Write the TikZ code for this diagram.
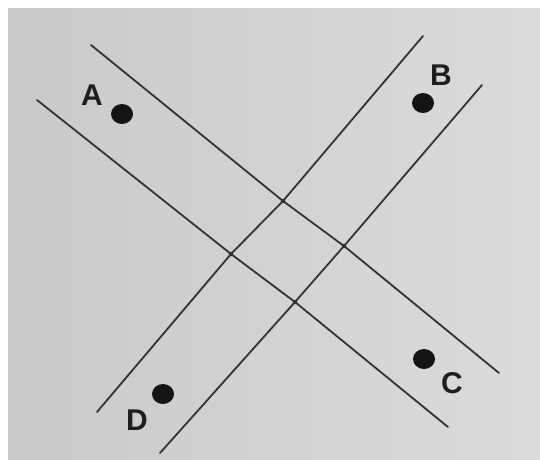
\documentclass[tikz,border=0pt]{standalone}
\usepackage{fontspec}
\setmainfont{Liberation Sans}
\usetikzlibrary{shapes.geometric}
\begin{document}
\begin{tikzpicture}[x=1pt,y=-1pt,
  road/.style={draw=black!80,line width=1.8pt,line cap=round,line join=round},
  spot/.style={ellipse,fill=black!92,inner sep=0pt,minimum width=22pt,minimum height=20pt},
  knot/.style={circle,fill=black!90,inner sep=0pt,minimum size=4.5pt},
  lbl/.style={font=\bfseries\fontsize{30}{30}\selectfont,text=black!88,inner sep=0pt}]
\useasboundingbox (0,0) rectangle (540,459);
\fill[white] (0,0) rectangle (540,459);
\shade[left color=black!21,right color=black!14] (8,8) rectangle (540,459);
% crossing points
\node[knot] (n) at (283,201) {};
\node[knot] (w) at (231,254) {};
\node[knot] (e) at (344,246) {};
\node[knot] (s) at (295,302) {};
% free ends
\coordinate (a1) at (91,45);
\coordinate (a2) at (499,373);
\coordinate (b1) at (37,100);
\coordinate (b2) at (448,427);
\coordinate (c1) at (423,36);
\coordinate (c2) at (97,412);
\coordinate (d1) at (482,85);
\coordinate (d2) at (160,453);
\draw[road] (a1) -- (n.center) -- (e.center) -- (a2);
\draw[road] (b1) -- (w.center) -- (s.center) -- (b2);
\draw[road] (c1) -- (n.center) -- (w.center) -- (c2);
\draw[road] (d1) -- (e.center) -- (s.center) -- (d2);
% spots
\node[spot] (pa) at (122,114) {};
\node[spot] (pb) at (423,103) {};
\node[spot] (pc) at (424,359) {};
\node[spot] (pd) at (163,394) {};
\node[lbl] (la) at (92,95) {A};
\node[lbl] (lb) at (441,75) {B};
\node[lbl] (lc) at (452,383) {C};
\node[lbl] (ld) at (137,420) {D};
\end{tikzpicture}
\end{document}
